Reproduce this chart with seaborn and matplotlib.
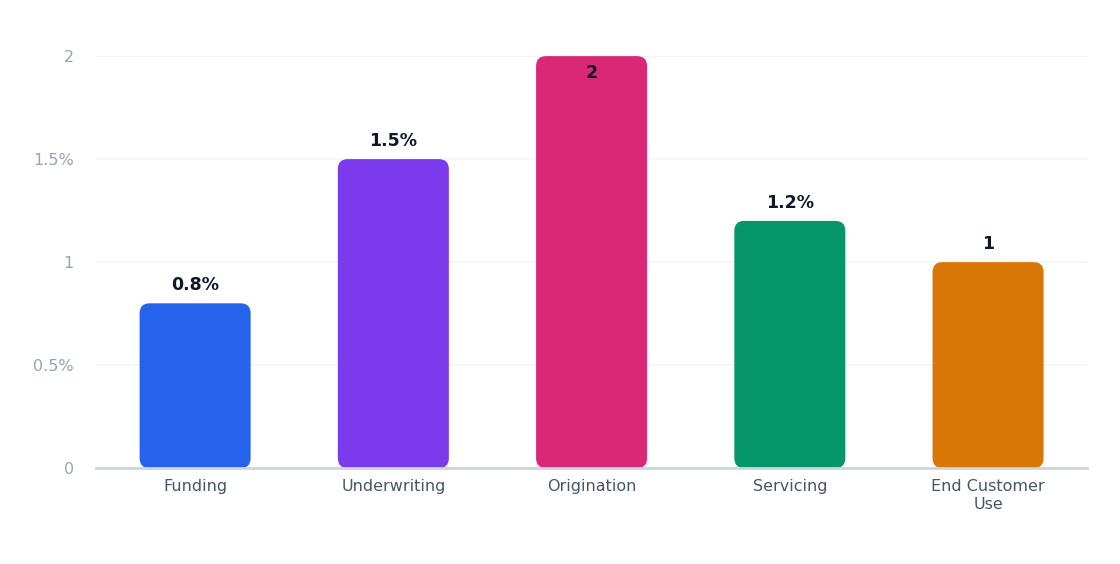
import matplotlib
matplotlib.use("Agg")
import matplotlib.pyplot as plt
import seaborn as sns
import pandas as pd
from matplotlib.patches import FancyBboxPatch

categories = ["Funding", "Underwriting", "Origination", "Servicing", "End Customer\nUse"]
values = [0.8, 1.5, 2.0, 1.2, 1.0]
value_labels = ["0.8%", "1.5%", "2", "1.2%", "1"]
colors = ["#2563eb", "#7c3aed", "#db2777", "#059669", "#d97706"]
ytick_vals = [0, 0.5, 1, 1.5, 2]
ytick_labels = ["0", "0.5%", "1", "1.5%", "2"]

sns.set_style("white")
plt.rcParams['font.family'] = ['DejaVu Sans']
fig = plt.figure(figsize=(11.2, 5.64), dpi=100)
ax = fig.add_axes([0.0857, 0.17, 0.885, 0.7305])
df = pd.DataFrame({"cat": categories, "val": values})
sns.barplot(data=df, x="cat", y="val", hue="cat", palette=colors, legend=False,
            width=0.56, ax=ax, zorder=2)

# replace with rounded bars
for p, c in zip(list(ax.patches), colors):
    x, y, w, h = p.get_x(), p.get_y(), p.get_width(), p.get_height()
    p.set_visible(False)
    fb = FancyBboxPatch((x, y), w, h, boxstyle="round,pad=0,rounding_size=0.05",
                        mutation_aspect=2.0 / 412 * 198 / 1.0 * 0.56 / 0.56,
                        facecolor=c, edgecolor="none", zorder=2)
    ax.add_patch(fb)

for i, (v, lab) in enumerate(zip(values, value_labels)):
    if lab == "2":
        ax.text(i, v - 0.04, lab, ha="center", va="top", fontsize=12.5,
                fontweight="bold", color="#0f172a", zorder=3)
    else:
        ax.text(i, v + 0.045, lab, ha="center", va="bottom", fontsize=12.5,
                fontweight="bold", color="#0f172a", zorder=3)

ax.set_ylim(0, 2)
ax.set_xlim(-0.5, 4.5)
ax.set_yticks(ytick_vals)
ax.set_yticklabels(ytick_labels)
ax.yaxis.grid(True, color="#f1f5f9", linewidth=1.2, zorder=0)
ax.set_axisbelow(True)
for s in ["top", "right", "left"]:
    ax.spines[s].set_visible(False)
ax.spines["bottom"].set_color("#cbd5e1")
ax.spines["bottom"].set_linewidth(2)
ax.tick_params(axis="y", colors="#94a3b8", labelsize=11.5, length=0, pad=16)
ax.tick_params(axis="x", labelcolor="#475569", labelsize=11.5, length=0, pad=8)
ax.set_xlabel("")
ax.set_ylabel("")
fig.savefig("out.png", dpi=100)
